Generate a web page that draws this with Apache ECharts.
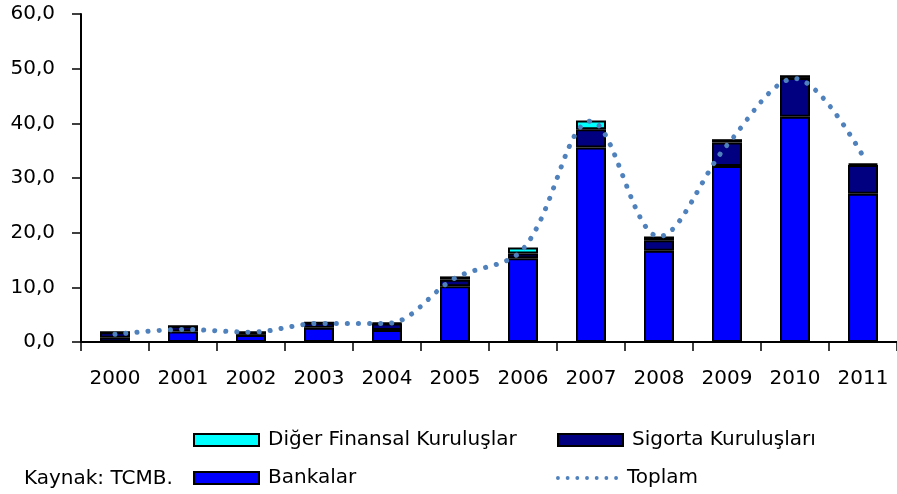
<!DOCTYPE html>
<html>
<head>
<meta charset="utf-8">
<script src="https://cdn.jsdelivr.net/npm/echarts@6/dist/echarts.min.js"></script>
<style>
  html, body { margin: 0; padding: 0; background: #fff; }
  #main { width: 897px; height: 494px; }
</style>
</head>
<body>
<div id="main"></div>
<script>
// veriler (milyar $)
var years = ['2000', '2001', '2002', '2003', '2004', '2005', '2006', '2007', '2008', '2009', '2010', '2011'];
var bankalar = [0.8, 1.9, 1.3, 2.6, 2.2, 10.2, 15.3, 35.6, 16.7, 32.2, 41.2, 27.1];
var sigorta = [1.0, 1.0, 0.5, 0.9, 1.2, 1.2, 0.9, 3.3, 1.9, 4.3, 7.1, 5.3];
var diger = [0, 0, 0, 0, 0.1, 0.6, 1.1, 1.6, 0.7, 0.6, 0.5, 0.2];
var toplam = [1.4, 2.3, 1.8, 3.4, 3.4, 11.7, 17.0, 40.4, 19.3, 36.0, 48.2, 34.0];
var yTicks = [0, 10, 20, 30, 40, 50, 60];

var font = 'DejaVu Sans';
var chart = echarts.init(document.getElementById('main'));

var barStyle = function (color) {
  return { color: color, borderColor: '#000', borderWidth: 2 };
};

// noktalı lejant simgesi (7 nokta)
var dotsIcon = 'path://';
for (var i = 0; i < 7; i++) {
  var cx = 2 + i * 10;
  dotsIcon += 'M' + (cx - 2) + ',2 A2,2 0 1 1 ' + (cx + 2) + ',2 A2,2 0 1 1 ' + (cx - 2) + ',2 Z ';
}

var legendItem = function (name, left, top, icon, w, h) {
  return {
    left: left, top: top, padding: 0,
    itemWidth: w || 65, itemHeight: h || 12,
    textStyle: { fontFamily: font, fontSize: 20, color: '#000', padding: [0, 0, 0, 4] },
    data: [{ name: name, icon: icon }]
  };
};

var option = {
  animation: false,
  textStyle: { fontFamily: font, color: '#000' },
  grid: { left: 81, right: 0, top: 14, bottom: 152 },
  legend: [
    legendItem('Diğer Finansal Kuruluşlar', 193, 430, 'rect'),
    legendItem('Bankalar', 193, 468, 'rect'),
    legendItem('Sigorta Kuruluşları', 557, 430, 'rect'),
    legendItem('Toplam', 556, 468, dotsIcon, 62, 4)
  ],
  graphic: [{
    type: 'text', left: 24, top: 469,
    style: { text: 'Kaynak: TCMB.', font: '20px "DejaVu Sans"', fill: '#000' }
  }],
  xAxis: {
    type: 'category',
    data: years,
    axisLine: { lineStyle: { color: '#000', width: 2 } },
    axisTick: { show: true, alignWithLabel: false, length: 9, lineStyle: { color: '#000', width: 1.5 } },
    axisLabel: { fontSize: 20, color: '#000', margin: 27 }
  },
  yAxis: {
    type: 'value',
    min: yTicks[0], max: yTicks[yTicks.length - 1], interval: 10,
    splitLine: { show: false },
    axisLine: { show: true, lineStyle: { color: '#000', width: 2 } },
    axisTick: { show: true, length: 9, lineStyle: { color: '#000', width: 1.5 } },
    axisLabel: {
      fontSize: 20, color: '#000', margin: 26,
      formatter: function (v) { return v.toFixed(1).replace('.', ','); }
    }
  },
  series: [
    { name: 'Bankalar', type: 'bar', stack: 'a', barWidth: 30, itemStyle: barStyle('#0000FF'), data: bankalar },
    { name: 'Sigorta Kuruluşları', type: 'bar', stack: 'a', barWidth: 30, itemStyle: barStyle('#000080'), data: sigorta },
    { name: 'Diğer Finansal Kuruluşlar', type: 'bar', stack: 'a', barWidth: 30, itemStyle: barStyle('#00FFFF'), data: diger },
    {
      name: 'Toplam', type: 'line', smooth: 0.35, symbol: 'none', z: 5,
      itemStyle: { color: '#4F81BD' },
      lineStyle: { color: '#4F81BD', width: 5, type: [0.1, 11], cap: 'round' },
      data: toplam
    }
  ]
};

chart.setOption(option);
</script>
</body>
</html>
